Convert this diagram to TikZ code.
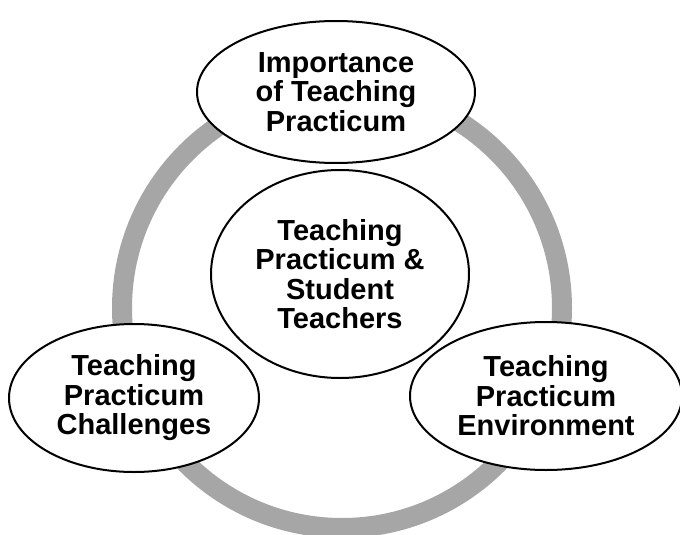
\documentclass[tikz,border=0pt]{standalone}
\usepackage{fontspec}
\setmainfont{Liberation Sans}
\usetikzlibrary{shapes.geometric}
\definecolor{ringgray}{RGB}{166,166,166}
\tikzset{
  bubble/.style={ellipse, draw=black, line width=2pt, fill=white, inner sep=0pt,
    align=center, font=\bfseries\fontsize{29}{29.5}\selectfont},
  ring/.style={draw=ringgray, line width=20pt}
}
\begin{document}
\begin{tikzpicture}[x=1pt, y=-1pt]
  \useasboundingbox (0,0) rectangle (680,535);
  % grey cycle behind the bubbles
  \coordinate (c) at (342,308);
  \draw[ring] (c) circle[radius=220pt];
  % central topic
  \node[bubble, minimum width=258pt, minimum height=208pt] (hub) at (340,274)
    {Teaching\\Practicum \&\\Student\\Teachers};
  % three surrounding topics
  \node[bubble, minimum width=278pt, minimum height=142pt] (top) at (336,92)
    {Importance\\of Teaching\\Practicum};
  \node[bubble, minimum width=250pt, minimum height=148pt] (left) at (134,398)
    {Teaching\\Practicum\\Challenges};
  \node[bubble, minimum width=272pt, minimum height=148pt] (right) at (546,396)
    {Teaching\\Practicum\\Environment};
\end{tikzpicture}
\end{document}
